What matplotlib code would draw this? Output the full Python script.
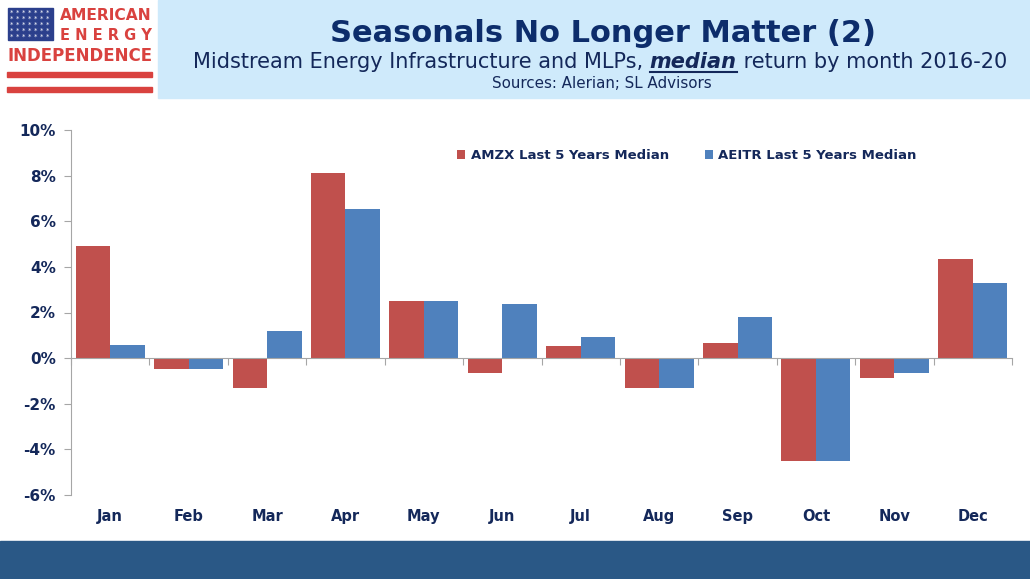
import matplotlib.pyplot as plt
from matplotlib.patches import Rectangle
from matplotlib.lines import Line2D
import numpy as np

months = ['Jan', 'Feb', 'Mar', 'Apr', 'May', 'Jun', 'Jul', 'Aug', 'Sep', 'Oct', 'Nov', 'Dec']
amzx = [4.9, -0.46, -1.31, 8.1, 2.49, -0.66, 0.52, -1.31, 0.67, -4.49, -0.87, 4.36]
aeitr = [0.56, -0.46, 1.2, 6.53, 2.49, 2.36, 0.92, -1.31, 1.82, -4.49, -0.66, 3.3]
series_names = ['AMZX Last 5 Years Median', 'AEITR Last 5 Years Median']
yticks = [-6, -4, -2, 0, 2, 4, 6, 8, 10]

red = '#c0504d'
blue = '#4f81bd'
navy = '#14285a'
gray = '#a6a6a6'

W, H = 1030, 579
fig = plt.figure(figsize=(10.3, 5.79), dpi=100)

# header band and footer band
fig.patches.append(Rectangle((158/W, 1 - 98/H), 1 - 158/W, 98/H,
                             transform=fig.transFigure, color='#cfeafb', zorder=0))
fig.patches.append(Rectangle((0, 0), 1, 38/H, transform=fig.transFigure,
                             color='#2a5886', zorder=0))

# logo
fig.patches.append(Rectangle((8/W, 1 - 40/H), 45/W, 32/H,
                             transform=fig.transFigure, color='#2b3f8c', zorder=1))
for sy in (72, 87):
    fig.patches.append(Rectangle((7/W, 1 - (sy + 5)/H), 145/W, 5/H,
                                 transform=fig.transFigure, color='#d9423f', zorder=1))
for i in range(5):
    for j in range(7):
        fig.text((12 + j * 6) / W, 1 - (13 + i * 6) / H, '*', color='white',
                 fontsize=5, ha='center', va='center')
fig.text(152/W, 1 - 15/H, 'AMERICAN', color='#d9423f', fontsize=11.2,
         fontweight='bold', ha='right', va='center')
fig.text(152/W, 1 - 35/H, 'E N E R G Y', color='#d9423f', fontsize=10.5,
         fontweight='bold', ha='right', va='center')
fig.text(80/W, 1 - 56/H, 'INDEPENDENCE', color='#d9423f', fontsize=12,
         fontweight='bold', ha='center', va='center')

# titles
fig.text(603/W, 1 - 33/H, 'Seasonals No Longer Matter (2)', color='#0d2d6b',
         fontsize=22, fontweight='bold', ha='center', va='center')

# subtitle in three pieces so the middle word can be bold italic and underlined
r = fig.canvas.get_renderer()
parts = [('Midstream Energy Infrastructure and MLPs, ', 'normal', 'normal'),
         ('median', 'bold', 'italic'),
         (' return by month 2016-20', 'normal', 'normal')]
sub_y = 1 - 62/H
pieces = []
for txt, wt, st in parts:
    t = fig.text(0, sub_y, txt, color=navy, fontsize=15, fontweight=wt, fontstyle=st,
                 ha='left', va='center')
    pieces.append(t)
widths = [t.get_window_extent(r).width for t in pieces]
xpos = 600 - sum(widths) / 2
for t, wd in zip(pieces, widths):
    t.set_x(xpos / W)
    if t.get_text() == 'median':
        fig.lines.append(Line2D([xpos / W, (xpos + wd) / W], [1 - 72/H, 1 - 72/H],
                                transform=fig.transFigure, color=navy, lw=1.5))
    xpos += wd

fig.text(602/W, 1 - 83/H, 'Sources: Alerian; SL Advisors', color=navy,
         fontsize=10.9, ha='center', va='center')

ax = fig.add_axes([71/W, 1 - 495/H, 941/W, 365/H])
x = np.arange(len(months))
w = 0.44
ax.bar(x - w/2, amzx, w, color=red, label=series_names[0], zorder=2)
ax.bar(x + w/2, aeitr, w, color=blue, label=series_names[1], zorder=2)

ax.set_xlim(-0.5, len(months) - 0.5)
ax.set_ylim(-6, 10)
ax.set_yticks(yticks)
ax.set_yticklabels([f'{v}%' for v in yticks])
for s in ('top', 'right'):
    ax.spines[s].set_visible(False)
ax.spines['left'].set_color(gray)
ax.spines['bottom'].set_position(('data', 0))
ax.spines['bottom'].set_color(gray)
ax.spines['bottom'].set_zorder(3)
ax.set_xticks(np.arange(len(months) + 1) - 0.5)
ax.tick_params(axis='x', length=5, color=gray, labelbottom=False)
ax.tick_params(axis='y', length=5, color=gray, labelcolor=navy, labelsize=11, pad=6)
for lab in ax.get_yticklabels():
    lab.set_fontweight('bold')

sec = ax.secondary_xaxis('bottom')
sec.spines['bottom'].set_visible(False)
sec.set_xticks(x)
sec.set_xticklabels(months)
sec.tick_params(length=0, labelcolor=navy, labelsize=10.5, pad=10)
for lab in sec.get_xticklabels():
    lab.set_fontweight('bold')

leg = ax.legend(loc='upper left', bbox_to_anchor=(0.398, 0.98), ncol=2, frameon=False,
                handlelength=0.6, handleheight=0.6, handletextpad=0.4, columnspacing=2.75,
                prop={'weight': 'bold', 'size': 9.5})
for t in leg.get_texts():
    t.set_color(navy)

fig.savefig('out.png', dpi=100)
